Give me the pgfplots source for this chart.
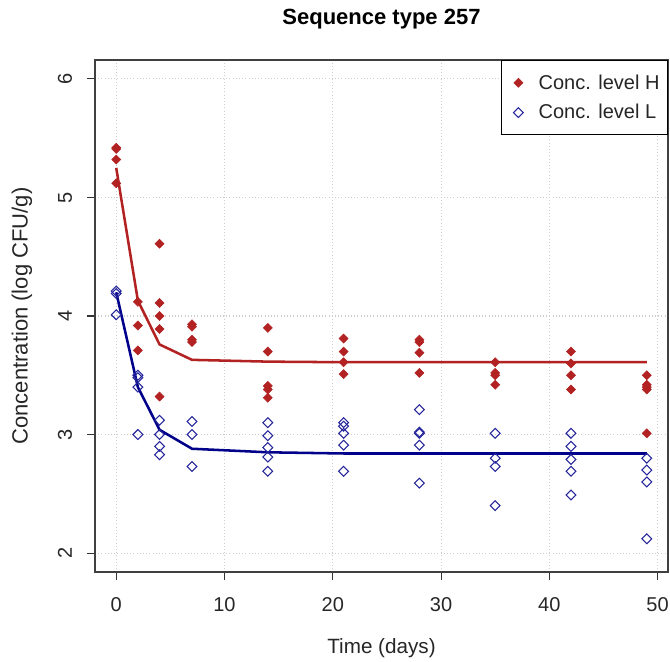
\documentclass[border=0pt]{standalone}
\usepackage{fontspec}
\setmainfont{Liberation Sans}
\usepackage{pgfplots}
\pgfplotsset{compat=1.18}
\definecolor{hred}{RGB}{178,34,34}
\definecolor{lblue}{RGB}{0,0,139}
\definecolor{gridgray}{RGB}{205,205,205}

\begin{document}
\begin{tikzpicture}
% 1px = 0.75pt; plot box 573x512 px
\path[use as bounding box] (-71.25pt,-66.75pt) rectangle (431.25pt,429pt);
\begin{axis}[
    scale only axis, width=429.75pt, height=384pt,
    at={(0pt,0pt)}, anchor=south west,
    xmin=-1.96, xmax=50.96, ymin=1.84, ymax=6.16,
    xtick={0,10,20,30,40,50}, ytick={2,3,4,5,6},
    tick pos=left, tick align=outside, major tick length=6pt,
    tick style={black!80, line width=0.8pt},
    axis line style={black!75, line width=0.8pt},
    grid=major, major grid style={dotted, draw=gridgray, line width=0.8pt},
    /pgf/number format/assume math mode=true,
    tick label style={font=\fontsize{15}{18}\selectfont, text=black!85},
    xticklabel style={anchor=center, yshift=-18.75pt},
    yticklabel style={xshift=-16.5pt, rotate=90, anchor=center},
    title={\textbf{Sequence type 257}},
    title style={font=\fontsize{16.5}{20}\selectfont, at={(axis description cs:0.5,1.080)}, anchor=center, yshift=-6pt},
    xlabel={Time (days)},
    ylabel={Concentration (log CFU/g)},
    xlabel style={font=\fontsize{15.5}{18}\selectfont, text=black!85, at={(axis description cs:0.5,0)}, yshift=-57pt, anchor=center},
    ylabel style={font=\fontsize{16.5}{18}\selectfont, text=black!85, at={(axis description cs:-0.1274,0.5)}, anchor=center},
    legend style={at={(1,1)}, anchor=north east, draw=black, line width=0.8pt,
        font=\fontsize{15}{18}\selectfont, text=black!85, inner xsep=4pt, inner ysep=8.5pt, row sep=6pt},
    legend cell align=left,
    legend image code/.code={\path[draw=none] (0pt,-5pt) rectangle (22pt,5pt); \draw[#1] plot coordinates {(8.8pt,0pt)};},
    clip=false,
]
\addplot[only marks, mark=square*, mark size=2.4pt, mark options={rotate=45, fill=hred, draw=hred, line width=0.4pt}, color=hred]
    coordinates {
    (0,5.42)(0,5.41)(0,5.32)(0,5.12)
    (2,4.12)(2,3.92)(2,3.71)
    (4,4.61)(4,4.11)(4,4.00)(4,3.89)(4,3.32)
    (7,3.93)(7,3.91)(7,3.80)(7,3.78)
    (14,3.90)(14,3.70)(14,3.41)(14,3.38)(14,3.31)
    (21,3.81)(21,3.70)(21,3.61)(21,3.51)
    (28,3.80)(28,3.78)(28,3.69)(28,3.52)
    (35,3.61)(35,3.52)(35,3.50)(35,3.42)
    (42,3.70)(42,3.60)(42,3.50)(42,3.38)
    (49,3.50)(49,3.42)(49,3.40)(49,3.38)(49,3.01)
    };
\addlegendentry{Conc. level H}
\addplot[only marks, mark=square, mark size=2.6pt, mark options={rotate=45, draw=lblue!85, line width=0.8pt}, color=lblue]
    coordinates {
    (0,4.21)(0,4.19)(0,4.01)
    (2,3.50)(2,3.48)(2,3.40)(2,3.00)
    (4,3.12)(4,3.00)(4,2.90)(4,2.83)
    (7,3.11)(7,3.00)(7,2.73)
    (14,3.10)(14,2.99)(14,2.89)(14,2.81)(14,2.69)
    (21,3.10)(21,3.07)(21,3.01)(21,2.91)(21,2.69)
    (28,3.21)(28,3.02)(28,3.01)(28,2.91)(28,2.59)
    (35,3.01)(35,2.80)(35,2.73)(35,2.40)
    (42,3.01)(42,2.90)(42,2.79)(42,2.69)(42,2.49)
    (49,2.80)(49,2.70)(49,2.60)(49,2.12)
    };
\addlegendentry{Conc. level L}
\addplot[hred, line width=1.9pt, no marks, forget plot]
    coordinates {(0,5.25)(2,4.13)(4,3.76)(7,3.63)(14,3.615)(21,3.61)(28,3.61)(35,3.61)(42,3.61)(49,3.61)};
\addplot[lblue, line width=1.9pt, no marks, forget plot]
    coordinates {(0,4.20)(2,3.40)(4,3.04)(7,2.88)(14,2.85)(21,2.84)(28,2.84)(35,2.84)(42,2.84)(49,2.84)};
\end{axis}
\end{tikzpicture}
\end{document}
